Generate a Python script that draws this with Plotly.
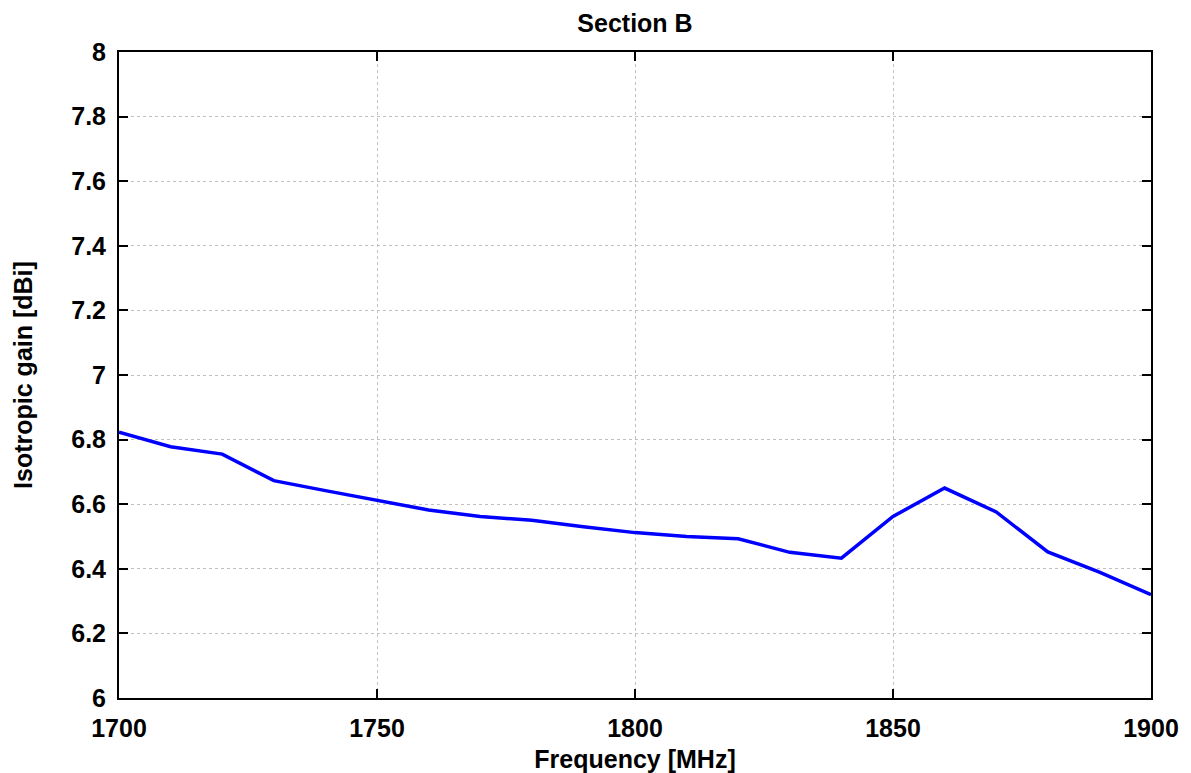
import plotly.graph_objects as go

freq = [1700, 1710, 1720, 1730, 1740, 1750, 1760, 1770, 1780, 1790, 1800,
        1810, 1820, 1830, 1840, 1850, 1860, 1870, 1880, 1890, 1900]
gain = [6.823, 6.778, 6.755, 6.673, 6.642, 6.612, 6.582, 6.562, 6.550, 6.530, 6.512,
        6.500, 6.493, 6.451, 6.433, 6.562, 6.650, 6.576, 6.452, 6.390, 6.320]

x_ticks = [1700, 1750, 1800, 1850, 1900]
y_ticks = [6, 6.2, 6.4, 6.6, 6.8, 7, 7.2, 7.4, 7.6, 7.8, 8]

font_family = "Liberation Sans, Arial, sans-serif"
FS = 25

fig = go.Figure()
fig.add_trace(go.Scatter(x=freq, y=gain, mode="lines",
                         line=dict(color="#0000ff", width=3.5), showlegend=False))

fig.update_layout(
    width=1191, height=773,
    margin=dict(l=119, r=40, t=52, b=75),
    paper_bgcolor="white", plot_bgcolor="white",
    font=dict(family=font_family, color="black"),
    title=dict(text="<b>Section B</b>", x=(119 + 1151) / 2 / 1191, xanchor="center",
               y=1 - 23 / 773, yanchor="middle", font=dict(size=FS, family=font_family)),
)
fig.update_xaxes(
    range=[1700, 1900], tickvals=x_ticks, ticktext=[f"<b>{v}</b>" for v in x_ticks],
    tickfont=dict(size=FS), ticks="inside", ticklen=9, tickcolor="black", tickwidth=1.5,
    ticklabelstandoff=7, automargin=False,
    showline=True, linecolor="black", linewidth=2, mirror="ticks",
    showgrid=True, gridcolor="#c0c0c0", griddash="dot", gridwidth=1,
    zeroline=False,
    title=dict(text="<b>Frequency [MHz]</b>", font=dict(size=FS)),
)
fig.update_yaxes(
    range=[6, 8], tickvals=y_ticks,
    ticktext=[f"<b>{v:g}</b>" for v in y_ticks],
    tickfont=dict(size=FS), ticks="inside", ticklen=9, tickcolor="black", tickwidth=1.5,
    ticklabelstandoff=6,
    showline=True, linecolor="black", linewidth=2, mirror="ticks",
    showgrid=True, gridcolor="#c0c0c0", griddash="dot", gridwidth=1,
    zeroline=False,
    title=dict(text="<b>Isotropic gain [dBi]</b>", font=dict(size=FS), standoff=31),
)

fig.write_html("out.html", config={"displayModeBar": False},
               post_script="document.body.style.margin='0';")
